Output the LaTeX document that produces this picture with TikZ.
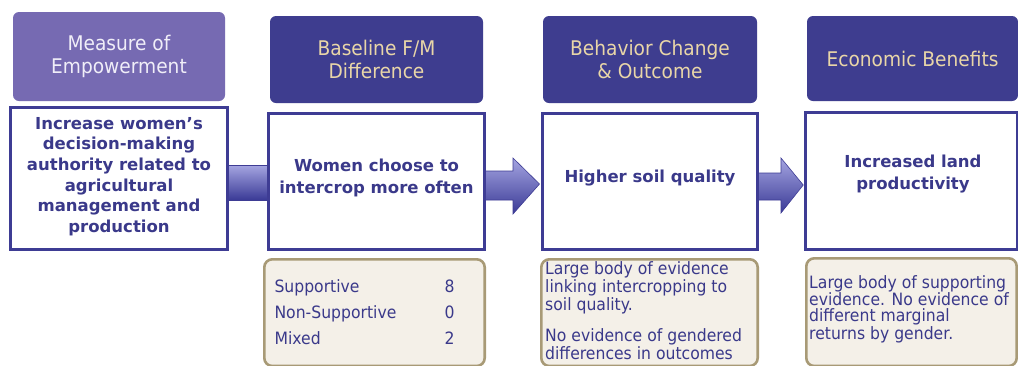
\documentclass[tikz,border=0pt]{standalone}
\usepackage{fontspec}
\setmainfont{DejaVu Sans}
\newfontfamily\narrowsans{DejaVu Sans}[FakeStretch=0.92]
\usetikzlibrary{calc}
\pgfdeclarelayer{background}
\pgfsetlayers{background,main}
\definecolor{hdrdark}{RGB}{62,61,143}
\definecolor{hdrlight}{RGB}{118,106,178}
\definecolor{hdrtan}{RGB}{233,214,168}
\definecolor{hdrwhite}{RGB}{240,238,248}
\definecolor{boxblue}{RGB}{62,60,148}
\definecolor{txtblue}{RGB}{58,57,138}
\definecolor{evfill}{RGB}{244,240,232}
\definecolor{evborder}{RGB}{168,154,118}
\definecolor{arrtop}{RGB}{165,165,225}
\definecolor{arrbot}{RGB}{58,58,150}
\begin{document}
\begin{tikzpicture}[x=1pt,y=-1pt,
  hdr/.style={rounded corners=6pt, inner sep=0pt, align=center, font=\narrowsans\fontsize{20.2}{23.5}\selectfont},
  hdrA/.style={hdr, fill=hdrlight, text=hdrwhite},
  hdrB/.style={hdr, fill=hdrdark, text=hdrtan},
  mainbox/.style={draw=boxblue, line width=3pt, fill=white, inner sep=0pt},
  maintext/.style={text=txtblue, align=center, inner sep=0pt, font=\fontsize{16.5}{20.7}\selectfont\bfseries},
  maintextB/.style={maintext, font=\fontsize{16.5}{22}\selectfont\bfseries},
  evbox/.style={draw=evborder, line width=2.6pt, fill=evfill, rounded corners=8pt, inner sep=0pt},
  evtext/.style={text=txtblue, align=left, inner sep=0pt, anchor=north west},
  fatarrow/.style={draw=boxblue, line width=0.6pt, top color=arrtop, bottom color=arrbot, line join=miter}
]
\useasboundingbox (0,0) rectangle (1018,365);

% headers
\node[hdrA, minimum width=212pt, minimum height=89pt] (h1) at (119,56.5) {Measure of\\Empowerment};
\node[hdrB, minimum width=213pt, minimum height=87pt] (h2) at (376.5,59.5) {Baseline F/M\\Difference};
\node[hdrB, minimum width=214pt, minimum height=87pt] (h3) at (650,59.5) {Behavior Change\\\& Outcome};
\node[hdrB, minimum width=211pt, minimum height=85pt] (h4) at (912.5,58.5) {Economic Benefits};

% main boxes
\node[mainbox, minimum width=217pt, minimum height=142pt] (b1) at (119,178.5) {};
\node[mainbox, minimum width=216pt, minimum height=136pt] (b2) at (376.5,181.5) {};
\node[mainbox, minimum width=215pt, minimum height=136pt] (b3) at (650,181.5) {};
\node[mainbox, minimum width=212pt, minimum height=137pt] (b4) at (911.5,181) {};

\node[maintext] (t1) at (119,176.5) {Increase women’s\\decision-making\\authority related to\\agricultural\\management and\\production};
\node[maintextB] (t2) at (376.5,178) {Women choose to\\intercrop more often};
\node[maintext] (t3) at (650,178) {Higher soil quality};
\node[maintextB] (t4) at (913,174) {Increased land\\productivity};

% evidence boxes (bottom edge runs just past the page)
\node[evbox, minimum width=220.4pt, minimum height=106.7pt] (e2) at (374.5,312.65) {};
\node[evbox, minimum width=216.4pt, minimum height=106.7pt] (e3) at (649.5,312.65) {};
\node[evbox, minimum width=210.4pt, minimum height=107.7pt] (e4) at (911.5,312.15) {};

\node[text=txtblue, inner sep=0pt, font=\narrowsans\fontsize{17}{26}\selectfont] (t5) at (364.5,313)
  {\begin{tabular}{@{}p{170pt}@{}r@{}}Supportive & 8\\ Non-Supportive & 0\\ Mixed & 2\end{tabular}};
\node[evtext, font=\narrowsans\fontsize{17}{17.8}\selectfont] (t6) at (545,261.7)
  {Large body of evidence\\linking intercropping to\\soil quality.\\[13pt]No evidence of gendered\\differences in outcomes};
\node[evtext, font=\narrowsans\fontsize{17}{16.2}\selectfont] (t7) at (809,275.1)
  {Large body of supporting\\evidence. No evidence of\\different marginal\\returns by gender.};

% arrows behind the boxes
\begin{pgfonlayer}{background}
\fill[white] (0,0) rectangle (1018,365);
\path[fatarrow] ($(b1.east)+(-2,-13.5)$) rectangle ($(b2.west)+(4,18.5)$);
\path[fatarrow] ($(b2.east)+(-2,-10.5)$) -- ($(b2.east)+(27,-10.5)$) -- ($(b2.east)+(27,-23.5)$)
  -- ($(b3.west)+(-1.5,2.5)$) -- ($(b2.east)+(27,32.5)$) -- ($(b2.east)+(27,18.5)$)
  -- ($(b2.east)+(-2,18.5)$) -- cycle;
\path[fatarrow] ($(b3.east)+(-2,-8.5)$) -- ($(b3.east)+(22,-8.5)$) -- ($(b3.east)+(22,-23.5)$)
  -- ($(b4.west)+(-0.75,4)$) -- ($(b3.east)+(22,31.5)$) -- ($(b3.east)+(22,18.5)$)
  -- ($(b3.east)+(-2,18.5)$) -- cycle;
\end{pgfonlayer}
\end{tikzpicture}
\end{document}
